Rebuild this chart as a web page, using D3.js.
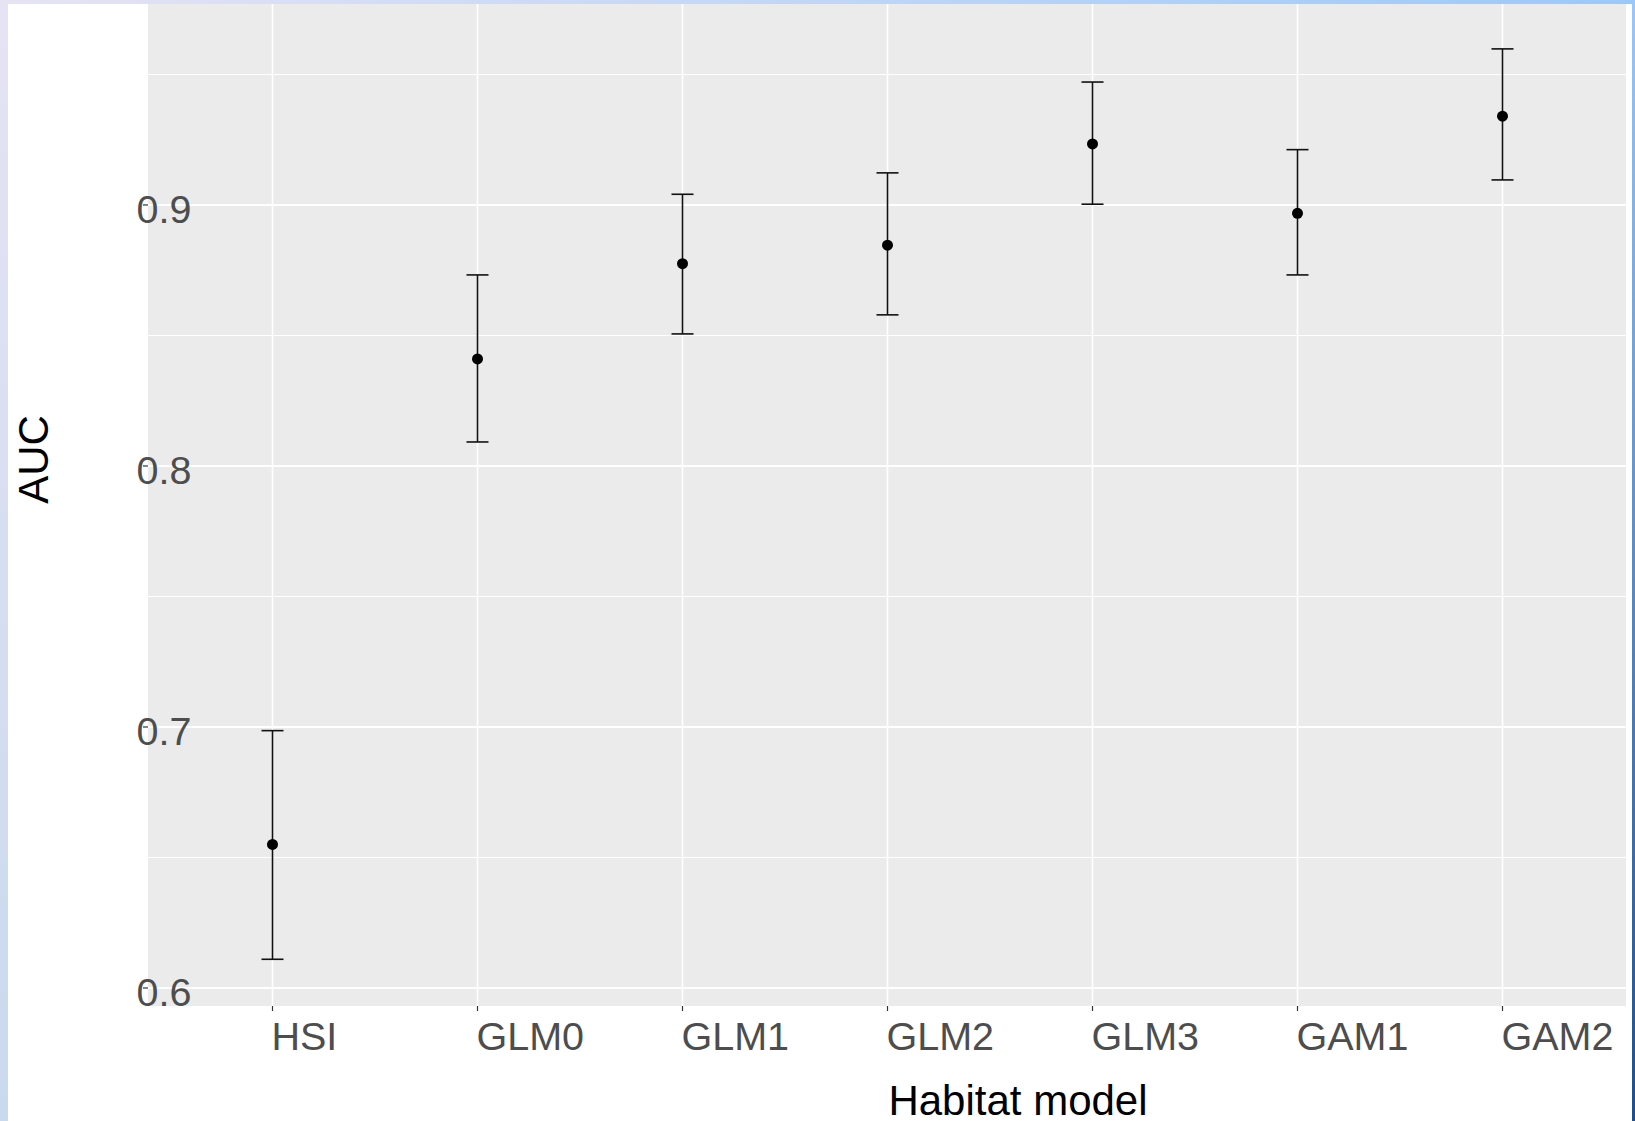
<!DOCTYPE html>
<html>
<head>
<meta charset="utf-8">
<script src="https://cdn.jsdelivr.net/npm/d3@7"></script>
<style>
  html, body { margin: 0; padding: 0; background: #fff; }
  svg { display: block; }
  text { font-family: "Liberation Sans", Arial, sans-serif; }
</style>
</head>
<body>
<svg id="chart" width="1635" height="1121"></svg>
<script>
// ---- data ----
const categories = ["HSI", "GLM0", "GLM1", "GLM2", "GLM3", "GAM1", "GAM2"];
const aucMean    = [0.655, 0.841, 0.8775, 0.8846, 0.9234, 0.8968, 0.934];
const aucLower   = [0.611, 0.8092, 0.8506, 0.8579, 0.9003, 0.8732, 0.9096];
const aucUpper   = [0.6986, 0.8732, 0.9041, 0.9123, 0.9471, 0.9212, 0.9598];
const yTicks     = [0.6, 0.7, 0.8, 0.9];
const yMinor     = [0.65, 0.75, 0.85, 0.95];
const xTitle = "Habitat model";
const yTitle = "AUC";

// ---- layout ----
const W = 1635, H = 1121;
const panel = { x0: 148, x1: 1626, y0: 4, y1: 1006 };
const svg = d3.select("#chart");

// frame gradients
const defs = svg.append("defs");
function grad(id, x2, y2, c0, c1) {
  const g = defs.append("linearGradient").attr("id", id)
    .attr("x1", "0").attr("y1", "0").attr("x2", x2).attr("y2", y2);
  g.append("stop").attr("offset", "0").attr("stop-color", c0);
  g.append("stop").attr("offset", "1").attr("stop-color", c1);
}
grad("gTop", "1", "0", "#e6e3f5", "#99c9fa");
grad("gLeft", "0", "1", "#e6e3f5", "#c9d9ee");
grad("gRight", "0", "1", "#99c9fa", "#1c4f8f");
svg.append("rect").attr("x", 0).attr("y", 0).attr("width", W).attr("height", H).attr("fill", "#fff");
svg.append("rect").attr("x", 0).attr("y", 0).attr("width", W).attr("height", 4).attr("fill", "url(#gTop)");
svg.append("rect").attr("x", 0).attr("y", 0).attr("width", 8).attr("height", H).attr("fill", "url(#gLeft)");
svg.append("rect").attr("x", 1632).attr("y", 0).attr("width", 3).attr("height", H).attr("fill", "url(#gRight)");

// scales
const x = d3.scalePoint().domain(categories).range([panel.x0 + 1.5, panel.x1 - 0.5]).padding(0.6);
const y = d3.scaleLinear().domain([0.5931, 0.9770]).range([panel.y1, panel.y0]);

// panel background
svg.append("rect")
  .attr("x", panel.x0).attr("y", panel.y0)
  .attr("width", panel.x1 - panel.x0).attr("height", panel.y1 - panel.y0)
  .attr("fill", "#ebebeb");

// grid
const grid = svg.append("g");
grid.selectAll("line.minor").data(yMinor).join("line")
  .attr("x1", panel.x0).attr("x2", panel.x1)
  .attr("y1", d => y(d)).attr("y2", d => y(d))
  .attr("stroke", "#fff").attr("stroke-width", 1.1);
grid.selectAll("line.major").data(yTicks).join("line")
  .attr("x1", panel.x0).attr("x2", panel.x1)
  .attr("y1", d => y(d)).attr("y2", d => y(d))
  .attr("stroke", "#fff").attr("stroke-width", 2);
grid.selectAll("line.vx").data(categories).join("line")
  .attr("x1", d => x(d)).attr("x2", d => x(d))
  .attr("y1", panel.y0).attr("y2", panel.y1)
  .attr("stroke", "#fff").attr("stroke-width", 1.6);

// error bars
const rows = categories.map((c, i) => ({ c, m: aucMean[i], lo: aucLower[i], hi: aucUpper[i] }));
const capHalf = 11;
const eb = svg.append("g").attr("stroke", "#111").attr("stroke-width", 1.6);
eb.selectAll("line.v").data(rows).join("line")
  .attr("x1", d => x(d.c)).attr("x2", d => x(d.c))
  .attr("y1", d => y(d.hi)).attr("y2", d => y(d.lo));
eb.selectAll("line.top").data(rows).join("line")
  .attr("x1", d => x(d.c) - capHalf).attr("x2", d => x(d.c) + capHalf)
  .attr("y1", d => y(d.hi)).attr("y2", d => y(d.hi));
eb.selectAll("line.bot").data(rows).join("line")
  .attr("x1", d => x(d.c) - capHalf).attr("x2", d => x(d.c) + capHalf)
  .attr("y1", d => y(d.lo)).attr("y2", d => y(d.lo));

svg.append("g").selectAll("circle").data(rows).join("circle")
  .attr("cx", d => x(d.c)).attr("cy", d => y(d.m)).attr("r", 5.5)
  .attr("fill", "#000");

// y tick labels (drawn overlapping panel, as in reference)
svg.append("g").selectAll("text").data(yTicks).join("text")
  .attr("x", 136.5).attr("y", d => y(d) + 18.2)
  .attr("font-size", 39.5).attr("fill", "#4d4d4d")
  .text(d => d3.format(".1f")(d));
// y ticks
svg.append("g").selectAll("line").data(yTicks).join("line")
  .attr("x1", 143).attr("x2", 148)
  .attr("y1", d => y(d)).attr("y2", d => y(d))
  .attr("stroke", "#333").attr("stroke-width", 1.2);

// x ticks + labels
svg.append("g").selectAll("line").data(categories).join("line")
  .attr("x1", d => x(d)).attr("x2", d => x(d))
  .attr("y1", panel.y1).attr("y2", panel.y1 + 5)
  .attr("stroke", "#333").attr("stroke-width", 1.2);
svg.append("g").selectAll("text").data(categories).join("text")
  .attr("x", d => x(d) - 1).attr("y", 1049.5)
  .attr("font-size", 39.5).attr("fill", "#4d4d4d")
  .text(d => d);

// axis titles
svg.append("text")
  .attr("x", 1018).attr("y", 1115)
  .attr("text-anchor", "middle").attr("font-size", 42).attr("fill", "#000")
  .text(xTitle);
svg.append("text")
  .attr("transform", "translate(48,459.5) rotate(-90)")
  .attr("text-anchor", "middle").attr("font-size", 42).attr("fill", "#000")
  .text(yTitle);
</script>
</body>
</html>
